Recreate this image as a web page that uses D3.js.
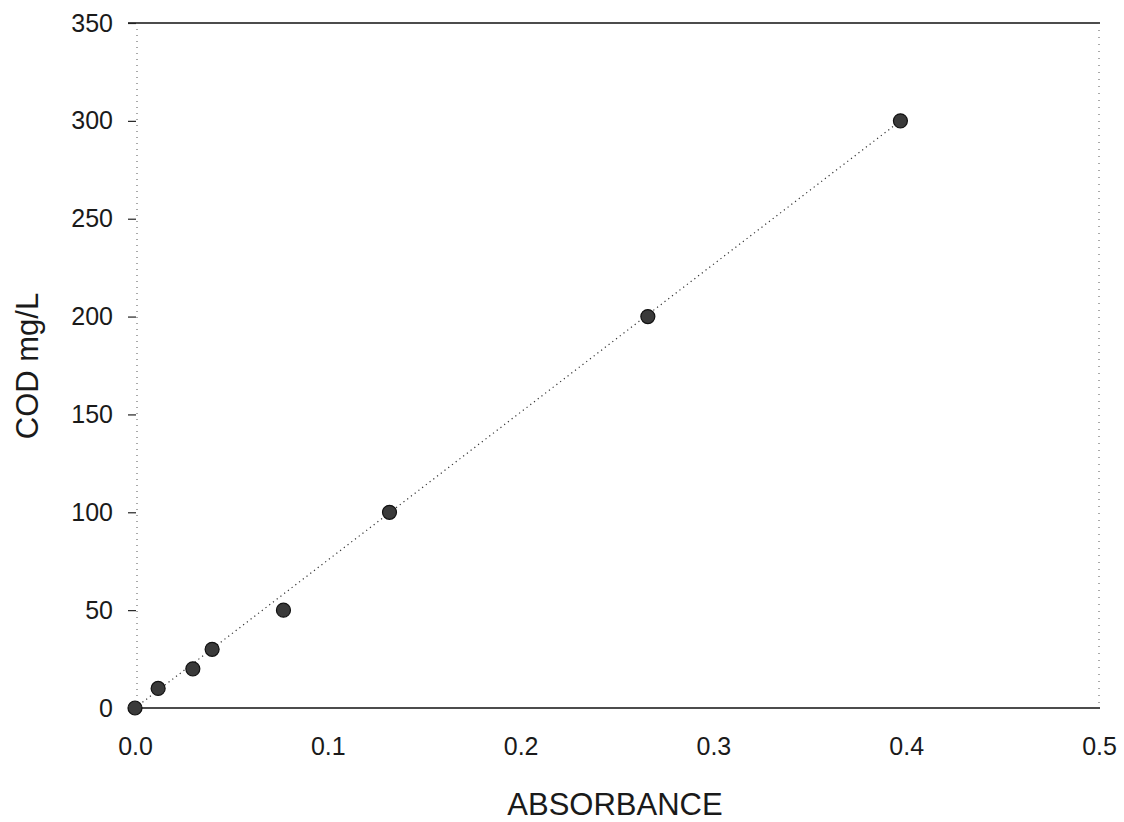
<!DOCTYPE html>
<html>
<head>
<meta charset="utf-8">
<script src="https://cdn.jsdelivr.net/npm/d3@7"></script>
<style>
  body { margin: 0; background: #fff; }
  text { font-family: "Liberation Sans", Arial, sans-serif; fill: #1a1a1a; }
</style>
</head>
<body>
<div class="canvas"></div>
<script>
// data
var absorbance = [0.0, 0.012, 0.030, 0.040, 0.077, 0.132, 0.266, 0.397];
var cod = [0, 10, 20, 30, 50, 100, 200, 300];
var xTicks = [0.0, 0.1, 0.2, 0.3, 0.4, 0.5];
var yTicks = [0, 50, 100, 150, 200, 250, 300, 350];
var fitLine = [[0.0, 0], [0.397, 300]];

var svg = d3.select(".canvas").append("svg").attr("width", 1124).attr("height", 822);

var plot = { left: 135, right: 1099, top: 23, bottom: 708 };

var x = d3.scaleLinear().domain([0, 0.5]).range([plot.left, plot.right]);
var y = d3.scaleLinear().domain([0, 350]).range([plot.bottom, plot.top]);

var graph = svg.append("g");

// frame: solid top and bottom, dotted sides
graph.append("line")
    .attr("x1", plot.left - 7).attr("x2", plot.right + 1)
    .attr("y1", plot.top).attr("y2", plot.top)
    .attr("stroke", "#111").attr("stroke-width", 1.6);
graph.append("line")
    .attr("x1", plot.left - 7).attr("x2", plot.right + 1)
    .attr("y1", plot.bottom).attr("y2", plot.bottom)
    .attr("stroke", "#111").attr("stroke-width", 1.6);
graph.append("line")
    .attr("x1", plot.left + 2).attr("x2", plot.left + 2)
    .attr("y1", plot.top).attr("y2", plot.bottom)
    .attr("stroke", "#555").attr("stroke-width", 1).attr("stroke-dasharray", "1,5");
graph.append("line")
    .attr("x1", plot.right).attr("x2", plot.right)
    .attr("y1", plot.top).attr("y2", plot.bottom)
    .attr("stroke", "#555").attr("stroke-width", 1).attr("stroke-dasharray", "1,6");

// y axis ticks + labels
var yAxis = d3.axisLeft(y).tickValues(yTicks).tickSize(8).tickPadding(15).tickFormat(d3.format("d"));
var gy = graph.append("g").attr("transform", "translate(" + (plot.left + 1) + ",0)").call(yAxis);
gy.select(".domain").remove();
gy.selectAll(".tick line").attr("stroke", "#222").attr("stroke-width", 1.2);
gy.selectAll(".tick text")
    .attr("font-size", "25px")
    .attr("font-family", "Liberation Sans, Arial, sans-serif")
    .attr("fill", "#1a1a1a");

// x axis labels
var xAxis = d3.axisBottom(x).tickValues(xTicks).tickSize(0).tickPadding(29).tickFormat(d3.format(".1f"));
var gx = graph.append("g").attr("transform", "translate(0," + plot.bottom + ")").call(xAxis);
gx.select(".domain").remove();
gx.selectAll(".tick text")
    .attr("font-size", "25px")
    .attr("font-family", "Liberation Sans, Arial, sans-serif")
    .attr("fill", "#1a1a1a");

// dotted fit line
graph.append("path")
    .datum(fitLine)
    .attr("d", d3.line().x(function(d) { return x(d[0]); }).y(function(d) { return y(d[1]); }))
    .attr("fill", "none")
    .attr("stroke", "#333")
    .attr("stroke-width", 1.2)
    .attr("stroke-dasharray", "1.2,3.5");

// points
graph.selectAll("circle.pt")
    .data(absorbance)
    .enter().append("circle")
    .attr("class", "pt")
    .attr("cx", function(d) { return x(d); })
    .attr("cy", function(d, i) { return y(cod[i]); })
    .attr("r", 7)
    .attr("fill", "#3a3a3a")
    .attr("stroke", "#111")
    .attr("stroke-width", 1.2);

// axis titles
graph.append("text")
    .attr("x", 615).attr("y", 815)
    .attr("text-anchor", "middle")
    .attr("font-size", "31px")
    .text("ABSORBANCE");

graph.append("text")
    .attr("transform", "translate(38,366) rotate(-90)")
    .attr("text-anchor", "middle")
    .attr("font-size", "31px")
    .text("COD mg/L");
</script>
</body>
</html>
